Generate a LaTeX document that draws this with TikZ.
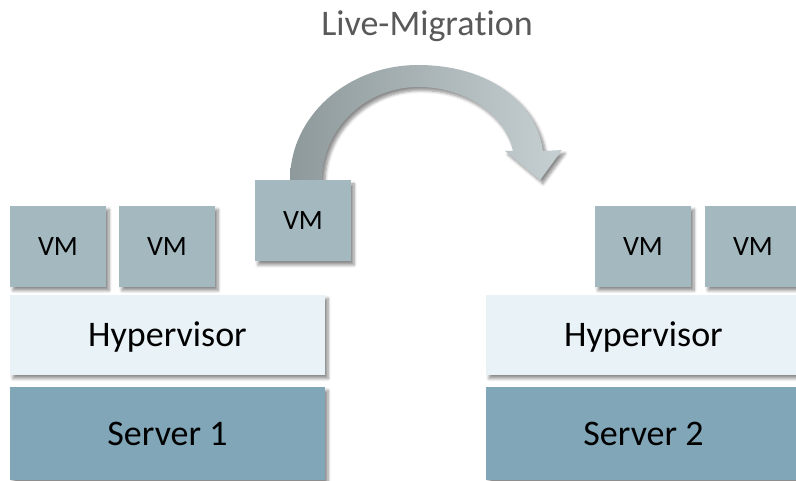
\documentclass[tikz,border=0pt]{standalone}
\usepackage{fontspec}
\setmainfont{Carlito}[Ligatures={NoCommon,NoContextual}]
\usetikzlibrary{shadows.blur}
\definecolor{vmfill}{HTML}{A4B9BF}
\definecolor{hypfill}{HTML}{E8F2F7}
\definecolor{srvfill}{HTML}{80A6B8}
\definecolor{titlegray}{HTML}{595959}
\definecolor{arrowdark}{HTML}{8E999C}
\definecolor{arrowmid}{HTML}{A9B4B7}
\definecolor{arrowlight}{HTML}{C6D0D3}
\begin{document}
\begin{tikzpicture}[x=1pt,y=1pt,
  softshadow/.style={blur shadow={shadow xshift=3pt, shadow yshift=-3.5pt,
      shadow blur radius=3pt, shadow blur steps=6, shadow opacity=45}},
  layerbox/.style={draw=none, inner sep=0pt, outer sep=0pt, softshadow, text=black},
  vmbox/.style={layerbox, fill=vmfill, minimum width=96pt, minimum height=81pt,
      font=\fontsize{28}{30}\selectfont, text height=18pt, text depth=0pt},
  hypbox/.style={layerbox, fill=hypfill, minimum width=315pt, minimum height=80pt,
      font=\fontsize{36}{40}\selectfont, text height=23pt, text depth=0pt},
  srvbox/.style={hypbox, fill=srvfill, minimum height=93pt},
  bandarrow/.style={softshadow, left color=arrowdark, middle color=arrowmid,
      right color=arrowlight},
]
\useasboundingbox (0,0) rectangle (796,480);

% title (the kern keeps "t" and "i" as separate glyphs)
\node[anchor=base, text=titlegray, font=\fontsize{36}{40}\selectfont] (title)
  at (427,444) {Live-Migra\kern0pt tion};

% curved migration arrow (drawn first, the moving VM sits on top of its foot)
\path[bandarrow]
  (290,290) -- (290,300)
  .. controls (290,363.5) and (347.3,415) .. (418,415)
  .. controls (488.7,415) and (536,378) .. (543,329)
  -- (562,330) -- (540,300) -- (505,329) -- (513,329)
  .. controls (506,362) and (470,393) .. (418,393)
  .. controls (365,393) and (322,351) .. (322,300)
  -- (322,290) -- cycle;

% server 1 stack
\node[srvbox] (srv1) at (167.5,46.5) {Server 1};
\node[hypbox] (hyp1) at (167.5,145) {Hypervisor};
\node[vmbox] (vm1) at (58,233.5) {VM};
\node[vmbox] (vm2) at (167,233.5) {VM};

% VM in transit
\node[vmbox] (mvm) at (303,259) {VM};

% server 2 stack
\node[srvbox] (srv2) at (643.5,46.5) {Server 2};
\node[hypbox] (hyp2) at (643.5,145) {Hypervisor};
\node[vmbox] (vm3) at (643,233.5) {VM};
\node[vmbox] (vm4) at (753,233.5) {VM};
\end{tikzpicture}
\end{document}
